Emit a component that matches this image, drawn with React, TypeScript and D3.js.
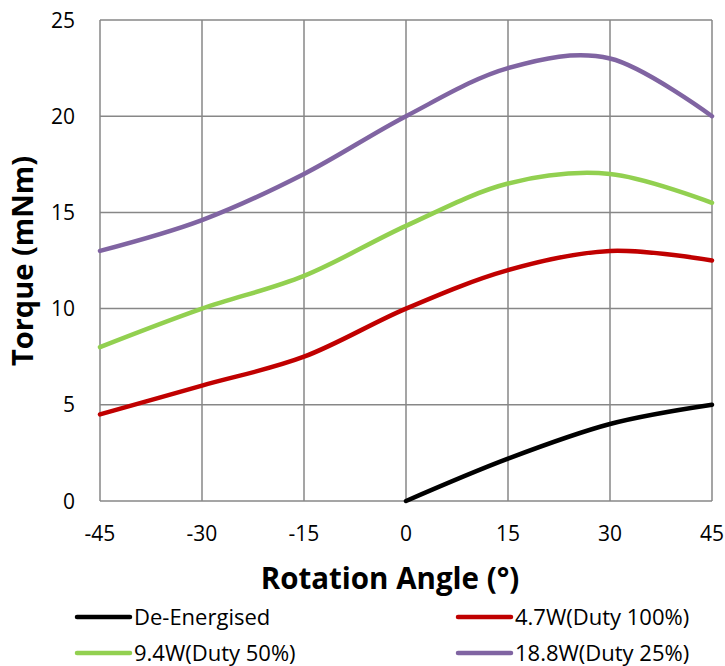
import React from 'react';
import * as d3 from 'd3';

const angles = [-45, -30, -15, 0, 15, 30, 45];
const deEnergised = [null, null, null, 0, 2.2, 4, 5];
const w47 = [4.5, 6, 7.5, 10, 12, 13, 12.5];
const w94 = [8, 10, 11.7, 14.3, 16.5, 17, 15.5];
const w188 = [13, 14.6, 17, 20, 22.5, 23, 20];
const yTicks = [0, 5, 10, 15, 20, 25];

const series = [
  { name: 'De-Energised', color: '#000000', values: deEnergised },
  { name: '4.7W(Duty 100%)', color: '#C00000', values: w47 },
  { name: '9.4W(Duty 50%)', color: '#92D050', values: w94 },
  { name: '18.8W(Duty 25%)', color: '#8064A2', values: w188 },
];

const W = 725;
const H = 666;
const font = "'Open Sans', sans-serif";

const App: React.FC = () => {
  const x = d3.scaleLinear().domain([-45, 45]).range([100, 712]);
  const y = d3.scaleLinear().domain([0, 25]).range([501, 20]);

  const line = d3.line<[number, number | null]>()
    .defined(d => d[1] !== null)
    .x(d => x(d[0]))
    .y(d => y(d[1] as number))
    .curve(d3.curveCardinal.tension(0));

  // legend layout: two columns, two rows
  const legendPos = [
    { lx: 77, ly: 617 },
    { lx: 458, ly: 617 },
    { lx: 77, ly: 653 },
    { lx: 458, ly: 653 },
  ];

  return (
    <svg width={W} height={H} style={{ position: 'absolute', left: 0, top: 0, background: '#fff' }}>
      <g>
        {angles.map(a => (
          <line key={'vx' + a} x1={x(a)} x2={x(a)} y1={y(0)} y2={y(25)} stroke="#878787" strokeWidth={1.5} />
        ))}
        {yTicks.map(t => (
          <line key={'hy' + t} x1={x(-45)} x2={x(45)} y1={y(t)} y2={y(t)} stroke="#878787" strokeWidth={1.5} />
        ))}
      </g>
      <g fontFamily={font} fontSize={21} fill="#000">
        {angles.map(a => (
          <text key={'tx' + a} x={x(a)} y={541} textAnchor="middle">{a}</text>
        ))}
        {yTicks.map(t => (
          <text key={'ty' + t} x={75} y={y(t)} dy="0.36em" textAnchor="end">{t}</text>
        ))}
      </g>
      {series.map(s => (
        <path
          key={s.name}
          d={line(angles.map((a, i) => [a, s.values[i]] as [number, number | null])) || ''}
          fill="none"
          stroke={s.color}
          strokeWidth={4.5}
          strokeLinecap="round"
        />
      ))}
      <text x={390} y={589} textAnchor="middle" fontFamily={font} fontWeight="bold" fontSize={29.5}>
        Rotation Angle (°)
      </text>
      <text
        transform="translate(33,261) rotate(-90)"
        textAnchor="middle"
        fontFamily={font}
        fontWeight="bold"
        fontSize={29}
      >
        Torque (mNm)
      </text>
      <g fontFamily={font} fontSize={22}>
        {series.map((s, i) => (
          <g key={'lg' + s.name}>
            <line
              x1={legendPos[i].lx}
              x2={legendPos[i].lx + 53}
              y1={legendPos[i].ly}
              y2={legendPos[i].ly}
              stroke={s.color}
              strokeWidth={4.5}
              strokeLinecap="round"
            />
            <text x={legendPos[i].lx + 57} y={legendPos[i].ly} dy="0.36em">{s.name}</text>
          </g>
        ))}
      </g>
    </svg>
  );
};

export default App;
